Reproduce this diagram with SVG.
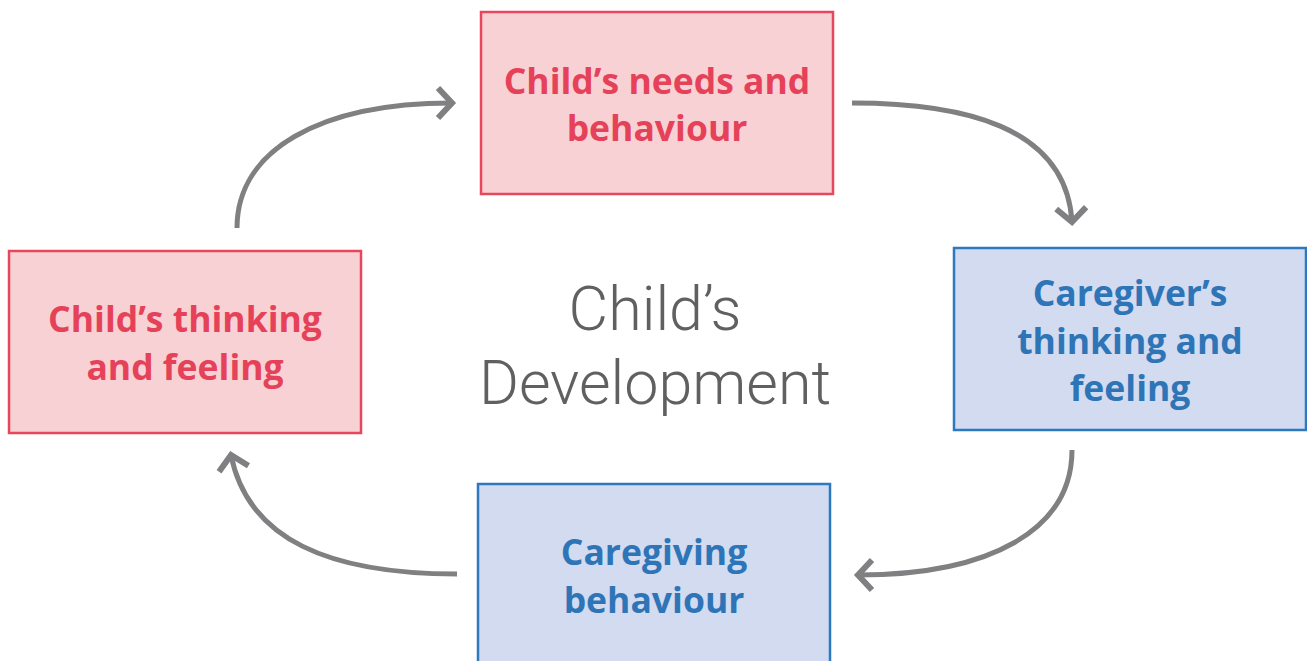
<svg xmlns="http://www.w3.org/2000/svg" width="1307" height="661" viewBox="0 0 1307 661">
<style>
.red rect{fill:#f8d1d4;stroke:#e8475b;stroke-width:2.5}
.blue rect{fill:#d2dbef;stroke:#2e78c0;stroke-width:2.5}
.red text{fill:#e5425a}
.blue text{fill:#2e75b8}
text.lbl{font-family:"Open Sans","Noto Sans",sans-serif;font-weight:700;font-size:35.5px;text-anchor:middle}
.conn path{fill:none;stroke:#808083;stroke-width:5}
.title{font-family:Roboto,sans-serif;font-weight:300;font-size:61px;fill:#606060;text-anchor:middle}
</style>
<defs>
<marker id="ah" markerUnits="userSpaceOnUse" markerWidth="44" markerHeight="44" refX="22" refY="22" orient="auto" viewBox="0 0 44 44">
<path d="M8,7 L22,22 L8,37" fill="none" stroke="#808083" stroke-width="6"/>
</marker>
</defs>
<rect width="1307" height="661" fill="#fff"/>
<g id="node-needs" class="red">
<rect x="481" y="12" width="352" height="182"/>
<text class="lbl" x="657" y="94">Child’s needs and</text>
<text class="lbl" x="657" y="141">behaviour</text>
</g>
<g id="node-caregiver-thinking" class="blue">
<rect x="954" y="248" width="352" height="182"/>
<text class="lbl" x="1130" y="306">Caregiver’s</text>
<text class="lbl" x="1130" y="354">thinking and</text>
<text class="lbl" x="1130" y="401">feeling</text>
</g>
<g id="node-caregiving" class="blue">
<rect x="478" y="484" width="352" height="190"/>
<text class="lbl" x="654" y="565">Caregiving</text>
<text class="lbl" x="654" y="613">behaviour</text>
</g>
<g id="node-child-thinking" class="red">
<rect x="9" y="251" width="352" height="182"/>
<text class="lbl" x="185" y="332">Child’s thinking</text>
<text class="lbl" x="185" y="380">and feeling</text>
</g>
<g id="center">
<text class="title" x="655" y="330">Child’s</text>
<text class="title" x="655" y="404">Development</text>
</g>
<g id="connectors" class="conn">
<path d="M237,228 C237,150 320,103 452,103" marker-end="url(#ah)"/>
<path d="M852,103 C960,103 1066,125 1072,222" marker-end="url(#ah)"/>
<path d="M1072,450 C1072,530 990,575 858,575" marker-end="url(#ah)"/>
<path d="M457,574 C330,574 248,540 231,455" marker-end="url(#ah)"/>
</g>
</svg>
